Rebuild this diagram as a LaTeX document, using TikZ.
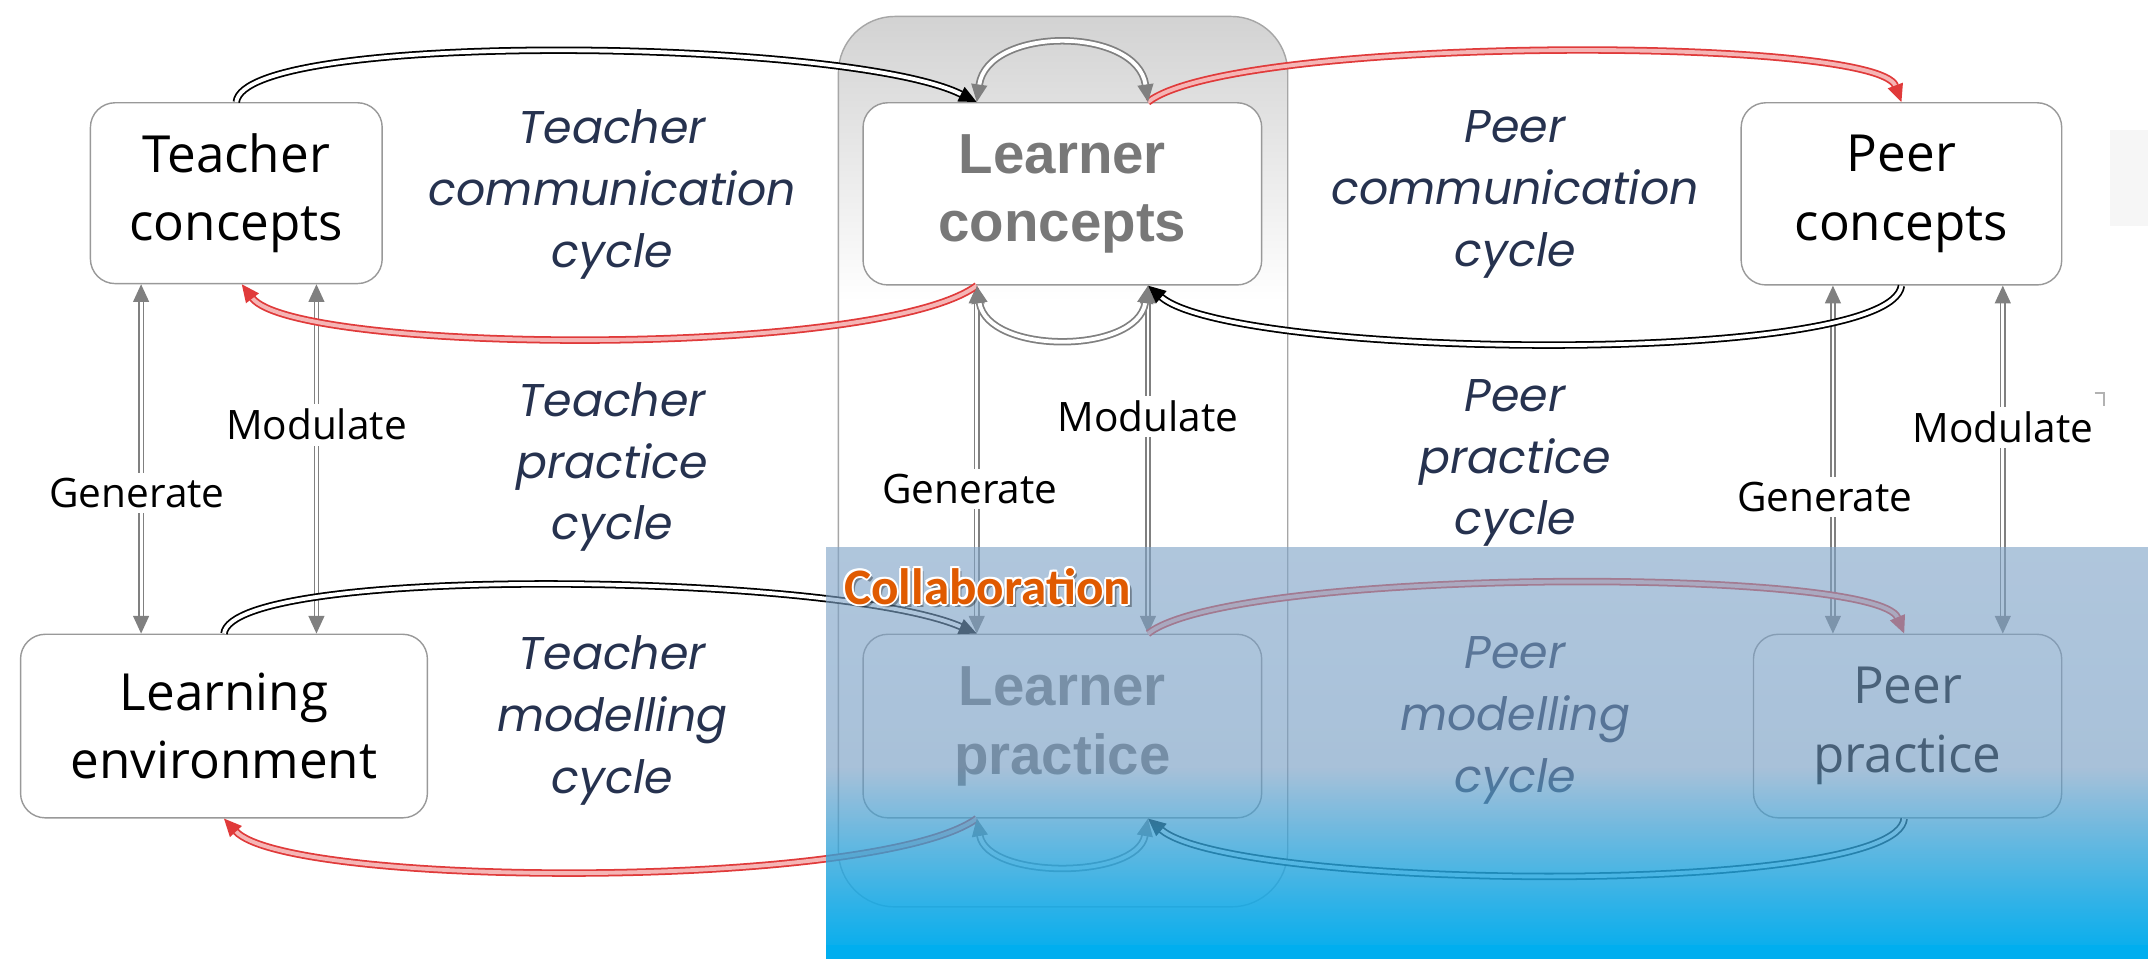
\documentclass[tikz,border=0pt]{standalone}
\usepackage{fontspec}
\setmainfont{Open Sans}
\newfontfamily\cyclefont{Poppins}
\newfontfamily\learnerfont{Liberation Sans}
\newfontfamily\collabfont{Carlito}
\usetikzlibrary{arrows.meta,calc,fadings}
\newcommand{\pxu}{0.3883pt}
\definecolor{navy}{HTML}{26324F}
\definecolor{arrowred}{HTML}{E03A3A}
\definecolor{palered}{HTML}{F5B5B5}
\definecolor{veilblue}{RGB}{105,148,190}
\definecolor{skyblue}{HTML}{00AEEF}
\definecolor{collaborange}{HTML}{E05A00}

\begin{document}
\begin{tikzpicture}[
    x=\pxu, y=-\pxu,
    box/.style={draw=gray!80, rounded corners=7pt, fill=white, align=center, inner sep=0pt, font=\fontsize{14.5}{19.5}\selectfont},
    learnerbox/.style={box, text=black!53, font=\learnerfont\bfseries\fontsize{16}{19.5}\selectfont},
    cyclelabel/.style={font=\cyclefont\itshape\fontsize{13}{17.5}\selectfont, text=navy, align=center},
    arclabel/.style={fill=white, inner sep=1.5pt, font=\fontsize{11.5}{13}\selectfont},
    flow/.style={draw=black, double=white, line width=0.5pt, double distance=1.1pt, -{Triangle[length=5pt,width=4.5pt]}},
    redflow/.style={flow, draw=arrowred, double=palered},
    loopflow/.style={flow, draw=gray, {Triangle[length=5pt,width=4.5pt]}-{Triangle[length=5pt,width=4.5pt]}},
    link/.style={draw=gray, double=white, line width=0.4pt, double distance=0.8pt, {Triangle[length=5pt,width=4.5pt]}-{Triangle[length=5pt,width=4.5pt]}}
  ]
  \useasboundingbox[fill=white] (0,0) rectangle (1568,700);
  % Learner column
  \begin{scope}
    \clip[rounded corners=16pt] (612,12) rectangle (940,662);
    \shade[top color=gray!35, bottom color=white] (612,12) rectangle (940,220);
  \end{scope}
  \draw[gray!70, rounded corners=16pt] (612,12) rectangle (940,662);
  \fill[gray!7] (1540,95) rectangle (1568,165);
  \draw[gray!60] (1529,287) -- (1536,287) -- (1536,296);
  % Concepts and practice
  \node[box, minimum width=213*\pxu, minimum height=132*\pxu] (tconc) at (172.5,141) {Teacher\\concepts};
  \node[learnerbox, minimum width=291*\pxu, minimum height=133*\pxu] (lconc) at (775.5,141.5) {Learner\\concepts};
  \node[box, minimum width=234*\pxu, minimum height=133*\pxu] (pconc) at (1388,141.5) {Peer\\concepts};
  \node[box, minimum width=297*\pxu, minimum height=134*\pxu] (lenv) at (163.5,530) {Learning\\environment};
  \node[learnerbox, minimum width=291*\pxu, minimum height=134*\pxu] (lprac) at (775.5,530) {Learner\\practice};
  \node[box, minimum width=225*\pxu, minimum height=134*\pxu] (pprac) at (1392.5,530) {Peer\\practice};
  % Cycles
  \node[cyclelabel] (tcomm) at (447,142) {Teacher\\communication\\cycle};
  \node[cyclelabel] (tpract) at (447,341) {Teacher\\practice\\cycle};
  \node[cyclelabel] (tmodel) at (447,526) {Teacher\\modelling\\cycle};
  \node[cyclelabel] (pcomm) at (1106,142) {Peer\\communication\\cycle};
  \node[cyclelabel] (ppract) at (1106,338) {Peer\\practice\\cycle};
  \node[cyclelabel] (pmodel) at (1106,526) {Peer\\modelling\\cycle};
  % Generate / Modulate
  \draw[link] ($(tconc.south)+(-69.5,0)$) -- ($(lenv.north)+(-60.5,0)$);
  \draw[link] ($(tconc.south)+(58.5,0)$) -- ($(lenv.north)+(67.5,0)$);
  \draw[link] ($(lconc.south)+(-62.5,0)$) -- ($(lprac.north)+(-62.5,0)$);
  \draw[link] ($(lconc.south)+(62.5,0)$) -- ($(lprac.north)+(62.5,0)$);
  \draw[link] ($(pconc.south)+(-50,0)$) -- ($(pprac.north)+(-54.5,0)$);
  \draw[link] ($(pconc.south)+(74,0)$) -- ($(pprac.north)+(69.5,0)$);
  \node[arclabel] (tgen) at (100,360) {Generate};
  \node[arclabel] (tmod) at (231,310) {Modulate};
  \node[arclabel] (lgen) at (708,357) {Generate};
  \node[arclabel] (lmod) at (838,304) {Modulate};
  \node[arclabel] (pgen) at (1332,363) {Generate};
  \node[arclabel] (pmod) at (1462,312) {Modulate};
  % Upper loops
  \draw[flow] (tconc.north) .. controls (178,22) and (620,28) .. ($(lconc.north)+(-62.5,0)$);
  \draw[redflow] ($(lconc.south)+(-62.5,0)$) .. controls (640,262) and (215,258) .. ($(tconc.south)+(4,0)$);
  \draw[redflow] ($(lconc.north)+(62.5,0)$) .. controls (900,26) and (1370,26) .. (pconc.north);
  \draw[flow] (pconc.south) .. controls (1380,268) and (900,262) .. ($(lconc.south)+(62.5,0)$);
  \draw[loopflow] ($(lconc.north)+(62.5,0)$) .. controls (830,19) and (721,19) .. ($(lconc.north)+(-62.5,0)$);
  \draw[loopflow] ($(lconc.south)+(-62.5,0)$) .. controls (721,259) and (830,259) .. ($(lconc.south)+(62.5,0)$);
  % Lower loops
  \draw[flow] (lenv.north) .. controls (170,412) and (610,418) .. ($(lprac.north)+(-62.5,0)$);
  \draw[redflow] ($(lprac.south)+(-62.5,0)$) .. controls (640,650) and (210,648) .. (lenv.south);
  \draw[redflow] ($(lprac.north)+(62.5,0)$) .. controls (900,414) and (1370,414) .. ($(pprac.north)+(-2.5,0)$);
  \draw[flow] ($(pprac.south)+(-2.5,0)$) .. controls (1385,655) and (900,650) .. ($(lprac.south)+(62.5,0)$);
  \draw[loopflow] ($(lprac.south)+(-62.5,0)$) .. controls (721,642) and (830,642) .. ($(lprac.south)+(62.5,0)$);
  % Collaboration overlay
  \shade[top color=veilblue!85!white, bottom color=veilblue, opacity=0.62] (603,400) rectangle (1568,700);
  \fill[skyblue, path fading=north] (603,560) rectangle (1568,700);
  \fill[skyblue] (603,690) rectangle (1568,700);
  \node[text=black, opacity=0.35, font=\collabfont\bfseries\fontsize{14.5}{16}\selectfont] at (723.5,430.5) {Collaboration};
  \foreach \dx/\dy in {1.5/0,-1.5/0,0/1.5,0/-1.5,1.1/1.1,-1.1/1.1,1.1/-1.1,-1.1/-1.1}
    \node[text=white, font=\collabfont\bfseries\fontsize{14.5}{16}\selectfont] at (721+\dx,428+\dy) {Collaboration};
  \node[text=collaborange, font=\collabfont\bfseries\fontsize{14.5}{16}\selectfont] (collab) at (721,428) {Collaboration};
\end{tikzpicture}
\end{document}
